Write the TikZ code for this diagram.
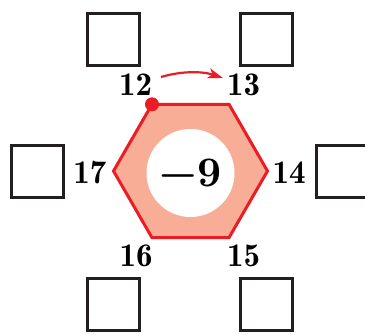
\documentclass[tikz,border=0pt]{standalone}
\usepackage{fontspec}
\usetikzlibrary{arrows.meta}
\newfontfamily\demifont[Extension=.otf]{lmromandemi10-regular}
\newfontfamily\heavyfont[Extension=.otf]{lmroman10-bold}
\definecolor{hexred}{RGB}{236,28,36}
\definecolor{hexfill}{RGB}{248,174,150}
\definecolor{boxline}{RGB}{35,31,32}
\begin{document}
\begin{tikzpicture}[x=1pt,y=-1pt,
  box/.style={draw=boxline,line width=3pt,minimum size=52pt,inner sep=0pt},
  lbl/.style={font=\demifont\fontsize{33}{33}\selectfont,anchor=base,inner sep=0pt,text=black},
  hexstyle/.style={draw=hexred,fill=hexfill,line width=3pt,line join=miter},
  arrowstyle/.style={draw=hexred,line width=2.2pt,-{Stealth[length=15pt,width=10pt,inset=4pt]}}]
\useasboundingbox (0,0) rectangle (365,335);
% squares
\node[box] (s1) at (113.5,39.5) {};
\node[box] (s2) at (266.5,39.5) {};
\node[box] (s3) at (37,171.5) {};
\node[box] (s4) at (342.5,171.5) {};
\node[box] (s5) at (113.5,304) {};
\node[box] (s6) at (266.5,304) {};
% hexagon
\coordinate (h0) at (267.5,171);
\coordinate (h1) at (229,104.3);
\coordinate (h2) at (152,104.3);
\coordinate (h3) at (113.5,171);
\coordinate (h4) at (152,237.7);
\coordinate (h5) at (229,237.7);
\draw[hexstyle] (h0)--(h1)--(h2)--(h3)--(h4)--(h5)--cycle;
\node[circle,fill=white,minimum size=88pt,inner sep=0pt,
  font=\heavyfont\fontsize{42}{42}\selectfont] (c) at (190.5,173) {−9};
\node[circle,fill=hexred,minimum size=14pt,inner sep=0pt] (dot) at (h2) {};
% labels
\node[lbl] (l12) at (135.5,95) {12};
\node[lbl] (l13) at (243.5,95) {13};
\node[lbl] (l17) at (90,183) {17};
\node[lbl] (l14) at (289,183) {14};
\node[lbl] (l16) at (136,266) {16};
\node[lbl] (l15) at (243.5,266) {15};
% arrow
\coordinate (a1) at (161,77);
\coordinate (a2) at (223,78);
\draw[arrowstyle] (a1) .. controls (181,71) and (202,71) .. (a2);
\end{tikzpicture}
\end{document}
